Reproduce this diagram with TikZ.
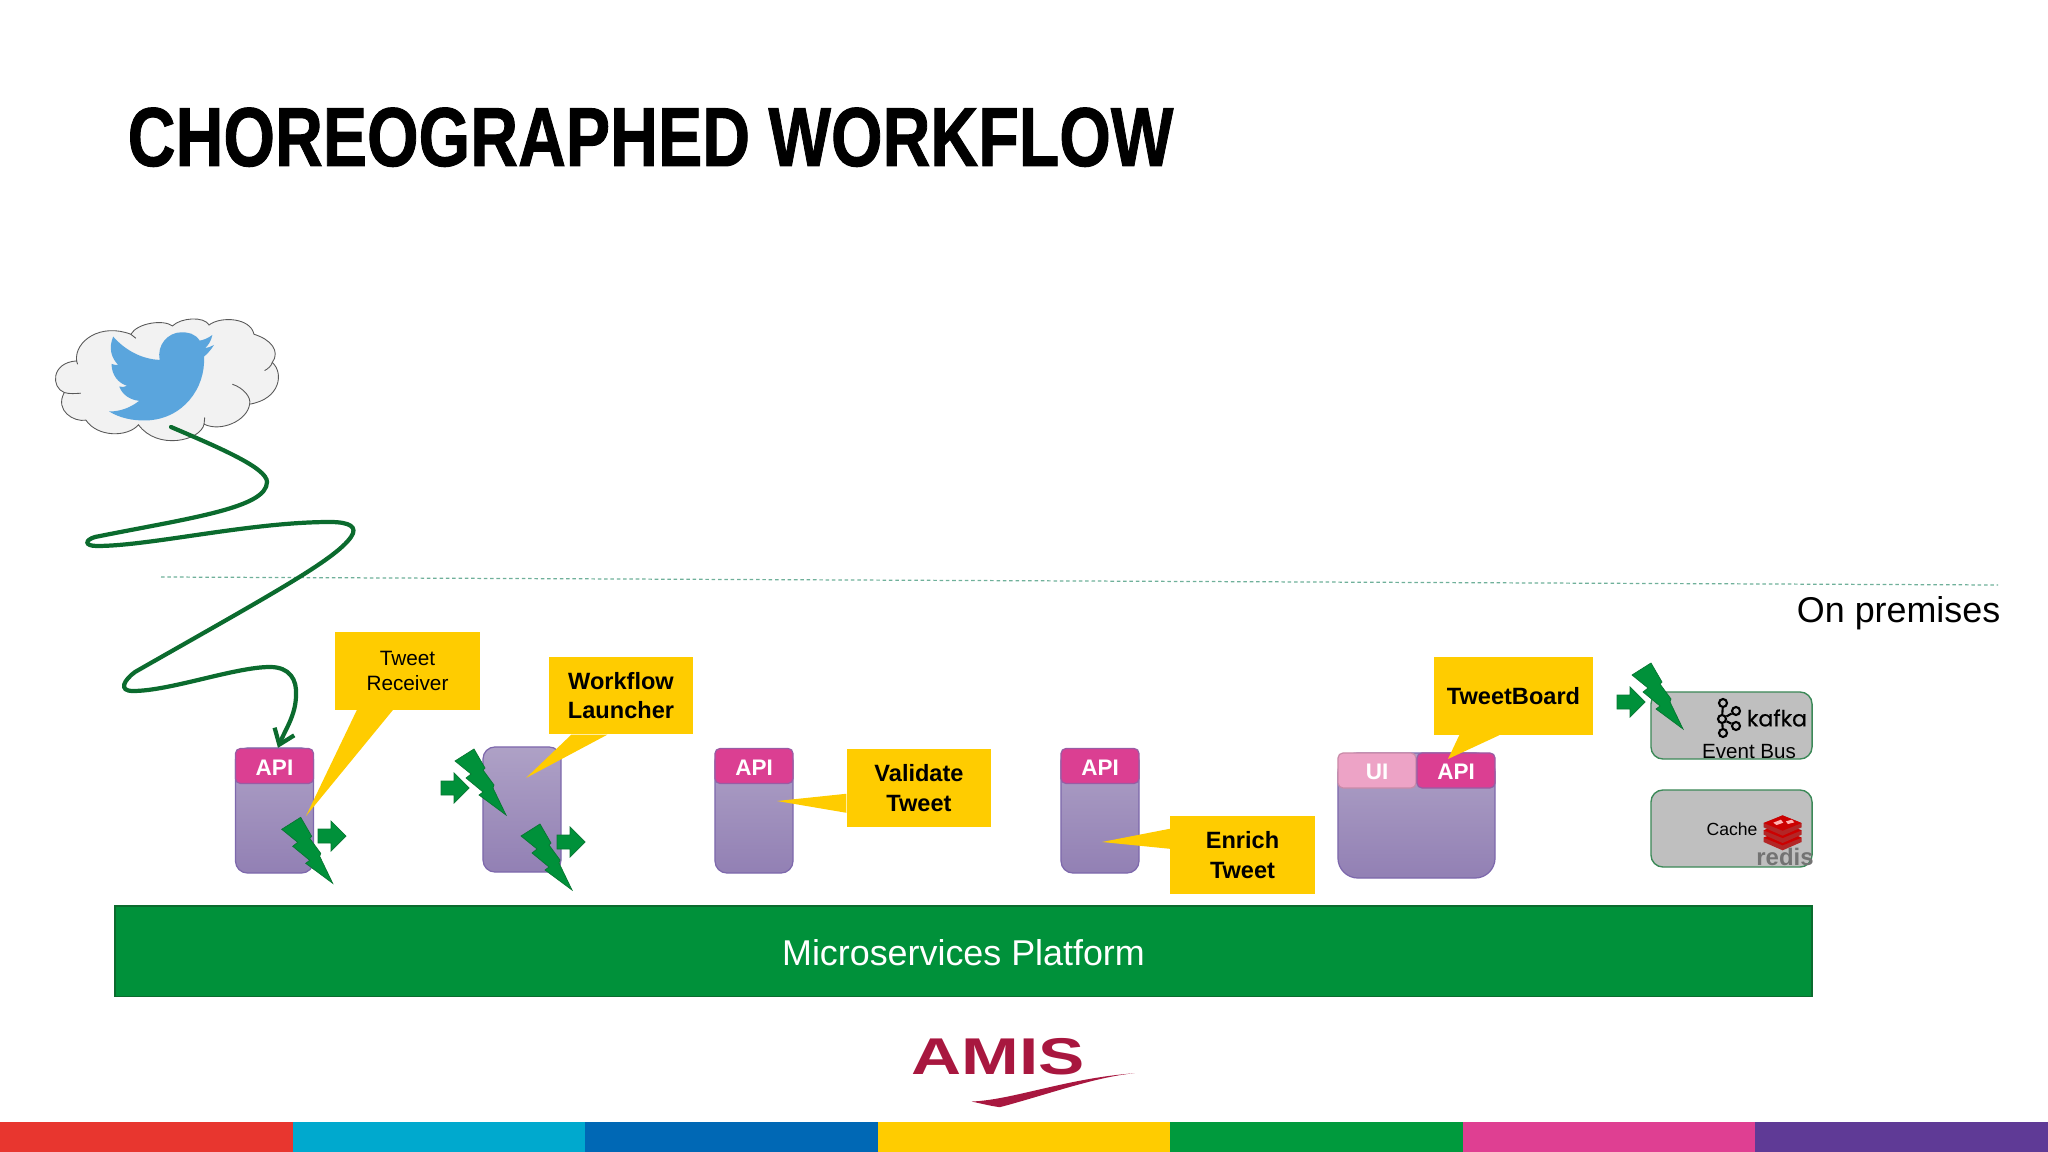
\documentclass[tikz,border=0pt]{standalone}
\usepackage{fontspec}
\usepackage{xcolor}
\usepackage{tikz}
\usetikzlibrary{arrows.meta,calc}
\setmainfont{Liberation Sans}
\newfontfamily\kafkafont[FakeBold=0.4]{Poppins}
\newfontfamily\titlefont[BoldFeatures={FakeBold=1.2}]{Liberation Sans}

\definecolor{platgreen}{HTML}{00913A}
\definecolor{wiregreen}{HTML}{0B6B2E}
\definecolor{calyellow}{HTML}{FFCC00}
\definecolor{apipink}{HTML}{DB3F92}
\definecolor{uipink}{HTML}{EDA3C6}
\definecolor{svcborder}{HTML}{7D68AC}
\definecolor{svctop}{HTML}{AEA1C6}
\definecolor{svcbot}{HTML}{9280B4}
\definecolor{storegray}{HTML}{BFBFBF}
\definecolor{amisred}{HTML}{A8173F}
\definecolor{birdblue}{HTML}{5AA5DD}
\definecolor{dashteal}{HTML}{6FB09A}
\definecolor{stripered}{HTML}{E8362F}
\definecolor{stripecyan}{HTML}{00A9CE}
\definecolor{stripeblue}{HTML}{0068B5}
\definecolor{stripegreen}{HTML}{009A3D}
\definecolor{stripepink}{HTML}{DF3F92}
\definecolor{stripepurple}{HTML}{5F3A96}

\tikzset{
  svcbox/.style={draw=svcborder,line width=0.35pt,top color=svctop,bottom color=svcbot,rounded corners=1.2mm,inner sep=0pt},
  apibox/.style={draw=svcborder!70!apipink,line width=0.35pt,fill=apipink,rounded corners=0.5mm,minimum width=0.78cm,minimum height=0.35cm,inner sep=0pt,text=white,text height=5.3pt,font=\fontsize{6.4}{7.6}\selectfont\bfseries},
  callout/.style={fill=calyellow,minimum width=1.44cm,minimum height=0.77cm,inner sep=0pt,align=center,font=\fontsize{6.7}{8.4}\selectfont\bfseries},
  tail/.style={fill=calyellow},
  storebox/.style={draw=wiregreen!80,line width=0.4pt,fill=storegray,rounded corners=1.2mm,minimum width=1.61cm,inner sep=0pt},
  wire/.style={draw=wiregreen,line width=1.2pt,line cap=round},
  kafkadot/.style={circle,draw=black,line width=0.6pt,fill=storegray,minimum size=0.08cm,inner sep=0pt},
  cloudline/.style={draw=black!65,line width=0.25pt},
  bolt/.pic={
    \fill[platgreen,draw=wiregreen!70!platgreen,line width=0.2pt] (0,0) -- (-19,12) -- (-3,25) -- (-8,29) -- (9,43) -- (5,46)
      -- (32,66) -- (19,39) -- (20,36) -- (9,21) -- (11,19) -- cycle;
  },
  flowarrow/.pic={
    \fill[platgreen,draw=wiregreen!70!platgreen,line width=0.2pt] (0,-7) -- (13,-7) -- (13,-15) -- (28,0) -- (13,15) -- (13,7) -- (0,7) -- cycle;
  }
}

\begin{document}
\begin{tikzpicture}[x=0.01cm,y=-0.01cm]
  \useasboundingbox (0,0) rectangle (2048,1152);

  % Title
  \node[anchor=base west,inner sep=0pt] (title) at (127,166)
    {\fontsize{23.8}{26}\selectfont\titlefont\bfseries\scalebox{0.792}[1]{CHOREOGRAPHED WORKFLOW}};

  % Cloud
  \begin{scope}[shift={(31,301)},x=0.003333cm,y=-0.003333cm]
    \draw[fill=black!5,cloudline]
      (137,180) .. controls (130,120) and (210,65) .. (300,100)
      .. controls (320,65) and (400,55) .. (425,75)
      .. controls (450,50) and (520,45) .. (535,72)
      .. controls (570,45) and (660,50) .. (670,100)
      .. controls (720,115) and (750,150) .. (725,185)
      .. controls (760,215) and (750,295) .. (657,310)
      .. controls (650,360) and (570,395) .. (520,370)
      .. controls (510,420) and (380,450) .. (323,372)
      .. controls (290,410) and (200,410) .. (165,358)
      .. controls (130,365) and (70,330) .. (100,275)
      .. controls (60,260) and (60,185) .. (137,180) -- cycle;
    \draw[cloudline] (605,250) .. controls (640,262) and (662,290) .. (657,310);
    \draw[cloudline] (100,275) .. controls (115,280) and (135,278) .. (150,277);
    \draw[cloudline] (725,185) .. controls (722,195) and (712,204) .. (702,209);
    \draw[cloudline] (137,180) -- (140,190);
    \draw[cloudline] (300,100) -- (315,112);
    \draw[cloudline] (520,370) -- (522,350);
  \end{scope}

  % Bird
  \begin{scope}[shift={(30,300)},x=0.003333cm,y=-0.003333cm]
    \fill[birdblue] (548,105) .. controls (530,118) and (520,120) .. (510,122)
      .. controls (495,100) and (475,97) .. (455,97)
      .. controls (415,97) and (380,135) .. (390,180)
      .. controls (335,178) and (285,150) .. (250,110)
      .. controls (235,145) and (245,175) .. (265,195)
      .. controls (258,195) and (250,195) .. (245,192)
      .. controls (245,225) and (265,250) .. (292,258)
      .. controls (285,262) and (275,262) .. (268,260)
      .. controls (278,285) and (300,300) .. (328,303)
      .. controls (303,323) and (272,335) .. (238,335)
      .. controls (270,355) and (310,363) .. (350,362)
      .. controls (460,358) and (528,265) .. (523,170)
      .. controls (535,160) and (545,148) .. (553,135)
      .. controls (545,140) and (535,143) .. (525,145)
      .. controls (535,138) and (545,122) .. (548,105) -- cycle;
  \end{scope}

  % Premises line
  \draw[draw=dashteal,line width=0.35pt,dash pattern=on 1pt off 0.8pt] (161,577) -- (1998,585);
  \node[anchor=east,inner sep=0pt,font=\fontsize{10.2}{12}\selectfont] (premises) at (2001,613) {On premises};

  % Services
  \node[svcbox,minimum width=0.78cm,minimum height=1.25cm] (svca) at (274.5,810.5) {};
  \node[apibox] (apia) at (274.5,766) {API};
  \node[svcbox,minimum width=0.78cm,minimum height=1.25cm] (svcb) at (522,809.5) {};
  \node[svcbox,minimum width=0.78cm,minimum height=1.24cm] (svcc) at (754,811) {};
  \node[apibox] (apic) at (754,766) {API};
  \node[svcbox,minimum width=0.78cm,minimum height=1.24cm] (svcd) at (1100,811) {};
  \node[apibox] (apid) at (1100,766) {API};
  \node[svcbox,rounded corners=2mm,minimum width=1.57cm,minimum height=1.25cm] (svce) at (1416.5,815.5) {};
  \node[apibox,draw=uipink!85!black,fill=uipink] (ui) at (1377,770.5) {UI};
  \node[apibox] (apie) at (1456,770.5) {API};

  % Stores
  \node[storebox,minimum height=0.67cm] (kafkabox) at (1731.5,725.5) {};
  \node[storebox,minimum height=0.77cm] (cachebox) at (1731.5,828.5) {};
  \node[kafkadot] (ka) at (1723,703) {};
  \node[kafkadot] (kb) at (1722,719) {};
  \node[kafkadot] (kc) at (1723,733) {};
  \node[kafkadot] (kd) at (1736,711) {};
  \node[kafkadot] (ke) at (1736,726) {};
  \draw[line width=0.6pt] (ka) -- (kb) -- (kc) (kb) -- (kd) (kb) -- (ke);
  \node[inner sep=0pt,font=\kafkafont\fontsize{6.3}{7}\selectfont] (kafkaname) at (1777,718) {kafka};
  \node[inner sep=0pt,font=\fontsize{5.85}{7}\selectfont] (eventbus) at (1749,752) {Event Bus};
  \node[inner sep=0pt,font=\fontsize{5}{6}\selectfont] (cache) at (1732,829) {Cache};

  % Redis
  \begin{scope}[shift={(1320,640)},x=0.003333cm,y=-0.003333cm]
    \foreach \dy in {44,22,0} {
      \fill[red!65!black!85] (1333,{550+\dy}) -- (1390,{527+\dy}) -- (1447,{550+\dy}) -- (1447,{563+\dy}) -- (1390,{588+\dy}) -- (1333,{563+\dy}) -- cycle;
      \fill[red!80!black] (1333,{550+\dy}) -- (1390,{527+\dy}) -- (1447,{550+\dy}) -- (1390,{573+\dy}) -- cycle;
    }
    \fill[white!70!red] (1362,549) -- (1385,540) -- (1392,549) -- (1372,556) -- cycle;
    \fill[white!70!red] (1400,545) -- (1418,540) -- (1425,548) -- (1406,553) -- cycle;
  \end{scope}
  \node[inner sep=0pt,text=black!55,font=\fontsize{6.8}{8}\selectfont\bfseries] (redis) at (1785,857) {redis};

  % Platform
  \node[draw=wiregreen,line width=0.3pt,fill=platgreen,text=white,minimum width=16.96cm,minimum height=0.9cm,inner sep=0pt,text height=8.6pt,font=\fontsize{10.2}{12}\selectfont] (platform) at (963.5,951) {Microservices Platform};

  % Callouts
  \node[callout,font=\fontsize{5.9}{7.1}\selectfont] (receiver) at (407.5,671) {Tweet\\Receiver};
  \fill[tail] (306,816) -- ($(receiver.south west)+(22,0)$) -- ($(receiver.south west)+(58,0)$) -- cycle;
  \node[callout] (launcher) at (621,695.5) {Workflow\\Launcher};
  \fill[tail] (526,778) -- ($(launcher.south west)+(23,0)$) -- ($(launcher.south west)+(59,0)$) -- cycle;
  \node[callout] (validate) at (919,788) {Validate\\Tweet};
  \fill[tail] (777,801) -- ($(validate.north west)+(0,45)$) -- ($(validate.north west)+(0,64)$) -- cycle;
  \node[callout] (enrich) at (1242.5,855) {Enrich\\Tweet};
  \fill[tail] (1102,842) -- ($(enrich.north west)+(0,13)$) -- ($(enrich.north west)+(0,33)$) -- cycle;
  \node[callout,minimum width=1.59cm] (board) at (1513.5,696) {TweetBoard};
  \fill[tail] (1448,759) -- ($(board.south west)+(26,0)$) -- ($(board.south west)+(66,0)$) -- cycle;

  % Events
  \pic at (318,836) {flowarrow};
  \pic at (441,788) {flowarrow};
  \pic at (557,842) {flowarrow};
  \pic at (1617,702) {flowarrow};
  \pic at (300.7,817.3) {bolt};
  \pic at (474,749) {bolt};
  \pic at (540,824) {bolt};
  \pic at (1651,663) {bolt};

  % Wire from the cloud
  \coordinate (cloudtail) at (171,427);
  \draw[wire,-{Straight Barb[length=4pt,width=6pt]}] (cloudtail)
    .. controls (220,448) and (267,468) .. (267,482)
    .. controls (267,508) and (190,518) .. (95,537)
    .. controls (85,540) and (84,546) .. (97,546)
    .. controls (150,546) and (250,522) .. (330,522)
    .. controls (350,522) and (358,527) .. (351,537)
    .. controls (335,560) and (270,595) .. (135,672)
    .. controls (124,680) and (118,691) .. (133,691)
    .. controls (170,691) and (235,667) .. (270,667)
    .. controls (290,667) and (297,680) .. (296,695)
    .. controls (296,715) and (285,730) .. ([xshift=1pt]apia.north);

  % Logo
  \node[inner sep=0pt,anchor=base,text=amisred,font=\fontsize{14.7}{16}\selectfont\bfseries] (amis) at (998,1074) {\scalebox{1.34}[1]{AMIS}};
  \begin{scope}[shift={(880,1020)},x=0.003333cm,y=-0.003333cm]
    \fill[amisred] (275,245) .. controls (400,240) and (560,175) .. (765,160)
      .. controls (650,170) and (500,225) .. (360,262) .. controls (330,258) and (300,250) .. (275,245) -- cycle;
  \end{scope}

  % Stripes
  \foreach \c [count=\i from 0] in {stripered,stripecyan,stripeblue,calyellow,stripegreen,stripepink,stripepurple} {
    \fill[\c] ({\i*292.57},1122) rectangle ++(292.57,30);
  }
\end{tikzpicture}
\end{document}
